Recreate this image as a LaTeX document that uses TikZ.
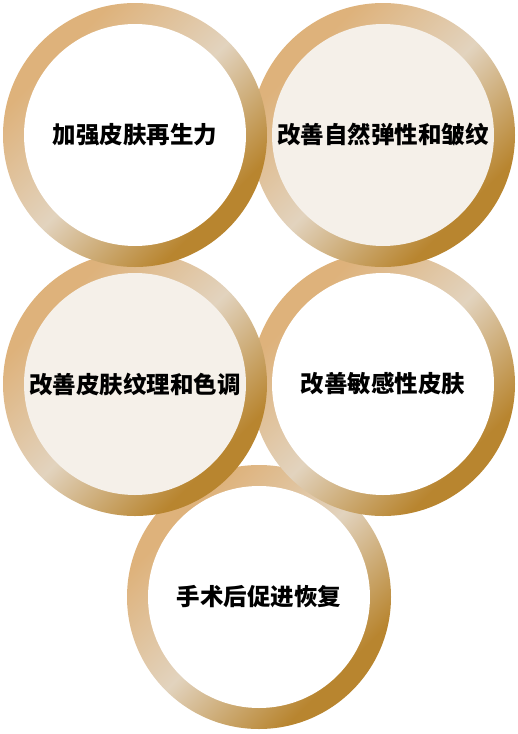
\documentclass[tikz,border=0pt]{standalone}
\usepackage{fontspec}
\newfontfamily\cjk{Noto Sans CJK SC}
\usetikzlibrary{positioning}

\definecolor{ringgold}{HTML}{DEB27B}
\definecolor{ringlight}{HTML}{E2D3BE}
\definecolor{ringdark}{HTML}{B8852F}
\definecolor{discbeige}{HTML}{F5F0E9}
\pgfdeclarehorizontalshading{goldring}{100bp}{color(0bp)=(ringgold); color(29bp)=(ringgold);
  color(50bp)=(ringlight); color(71bp)=(ringdark); color(100bp)=(ringdark)}

\begin{document}
\begin{tikzpicture} [x=1pt, y=-1pt, node distance = 248pt, on grid,
ring/.style = {circle, minimum size = 264pt, inner sep = 0pt, shading = goldring, shading angle = -45,
  path picture = {\fill [#1] (path picture bounding box.center) circle (111pt);}},
ring/.default = white,
every node/.style = {font = \cjk\bfseries\fontsize{23.5}{28}\selectfont, text = black}]

\useasboundingbox (0,0) rectangle (518,734);

\node (c5) [ring] at (259,597) {手术后促进恢复};
\node (c4) [ring, above right = 213pt and 124pt of c5] {改善敏感性皮肤};
\node (c3) [ring = discbeige, left = of c4] {改善皮肤纹理和色调};
\node (c2) [ring = discbeige, above = 249pt of c4] {改善自然弹性和皱纹};
\node (c1) [ring, left = of c2] {加强皮肤再生力};
\end{tikzpicture}
\end{document}
